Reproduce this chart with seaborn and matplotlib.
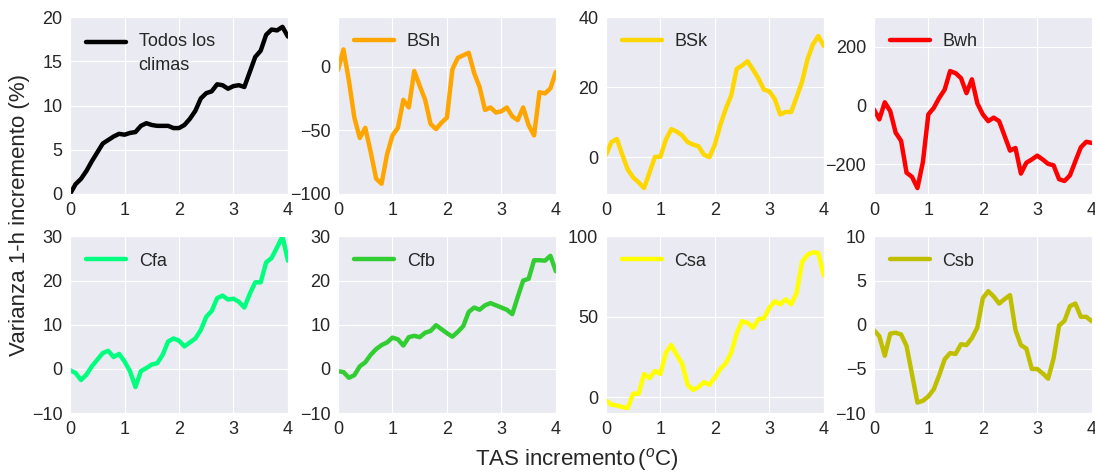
import numpy as np
import pandas as pd
import matplotlib
matplotlib.use("Agg")
import matplotlib.pyplot as plt
import seaborn as sns

# TAS increment axis, 0.0 to 4.0 every 0.1
tas = [round(0.1 * i, 1) for i in range(41)]

todos = [0.0, 1.1, 1.7, 2.6, 3.7, 4.7, 5.7, 6.1, 6.5, 6.8,
         6.7, 6.9, 7.0, 7.7, 8.0, 7.8, 7.7, 7.7, 7.7, 7.45,
         7.45, 7.8, 8.5, 9.4, 10.8, 11.4, 11.6, 12.4, 12.3, 11.9,
         12.2, 12.3, 12.1, 13.8, 15.5, 16.2, 18.0, 18.6, 18.5, 18.9,
         17.8]
bsh = [-2.6, 13.6, -11, -40, -56, -48, -67, -88, -92, -69,
       -54, -48, -26, -32, -3.4, -15, -26, -45, -49, -44,
       -40, -2, 7, 9, 11, -5, -16, -34, -32, -36,
       -35, -32, -39, -42, -32, -46, -54, -20, -21, -17,
       -4]
bsk = [0.6, 4.3, 5.2, 0.7, -3.5, -5.8, -7.2, -8.8, -4.4, 0.1,
       0.1, 5.0, 8.0, 7.3, 6.2, 4.3, 3.6, 3.1, 0.7, 0.0,
       3.6, 9.2, 13.8, 17.6, 25.2, 26.2, 27.4, 25.0, 22.5, 19.3,
       18.8, 16.6, 12.2, 12.9, 12.9, 17.1, 21.5, 27.9, 32.2, 34.6,
       31.8]
bwh = [-13, -47, 11, -19, -92, -120, -228, -242, -280, -192,
       -30, -8, 26, 54, 117, 110, 93, 42, 89, 7,
       -30, -53, -41, -53, -103, -153, -144, -231, -194, -183,
       -170, -183, -198, -203, -250, -256, -237, -189, -142, -123,
       -127]
cfa = [-0.3, -0.9, -2.5, -1.3, 0.6, 2.1, 3.6, 4.1, 2.7, 3.4,
       1.7, -0.5, -4.1, -0.5, 0.2, 1.0, 1.3, 3.2, 6.2, 6.9,
       6.4, 5.1, 6.0, 6.9, 8.8, 11.8, 13.1, 16.0, 16.6, 15.7,
       15.9, 15.2, 13.9, 17.0, 19.6, 19.6, 24.1, 25.1, 27.5, 30.0,
       24.5]
cfb = [-0.5, -0.7, -2.0, -1.4, 0.6, 1.5, 3.2, 4.5, 5.4, 6.0,
       7.1, 6.7, 5.3, 7.2, 7.5, 7.2, 8.2, 8.6, 9.9, 9.0,
       8.1, 7.3, 8.4, 9.7, 12.9, 13.9, 13.4, 14.4, 14.9, 14.4,
       13.9, 13.4, 12.4, 16.3, 20.0, 20.4, 24.6, 24.6, 24.5, 25.6,
       22.1]
csa = [-2.0, -4.7, -5.2, -6.2, -6.8, 2.1, 2.1, 14.4, 11.8, 16.3,
       14.4, 27.6, 32.4, 26.2, 20.6, 7.6, 4.5, 6.2, 9.3, 7.6,
       12.2, 17.5, 21.0, 27.6, 39.6, 47.2, 46.2, 43.1, 48.4, 49.0,
       55.5, 59.6, 57.7, 60.8, 57.7, 64.7, 83.9, 88.5, 90.1, 89.7,
       75.7]
csb = [-0.6, -1.3, -3.5, -1.0, -0.9, -1.1, -2.4, -5.6, -8.8, -8.6,
       -8.1, -7.3, -5.7, -3.9, -3.2, -3.3, -2.2, -2.3, -1.5, -0.3,
       3.0, 3.8, 3.2, 2.4, 2.9, 3.35, -0.6, -2.3, -2.7, -5.0,
       -5.0, -5.5, -6.1, -3.8, -0.1, 0.45, 2.1, 2.4, 0.9, 0.9,
       0.4]

labels = ["Todos los\nclimas", "BSh", "BSk", "Bwh", "Cfa", "Cfb", "Csa", "Csb"]
series = [todos, bsh, bsk, bwh, cfa, cfb, csa, csb]
colors = ["black", "orange", "gold", "red", "springgreen", "limegreen", "yellow", "y"]
ylims = [(0, 20), (-100, 39), (-10.5, 40), (-300, 300),
         (-10, 30), (-10, 30), (-10, 100), (-10, 10)]
yticks = [[0, 5, 10, 15, 20], [-100, -50, 0], [0, 20, 40], [-200, 0, 200],
          [-10, 0, 10, 20, 30], [-10, 0, 10, 20, 30], [0, 50, 100], [-10, -5, 0, 5, 10]]

sns.set_style("darkgrid")
plt.rcParams["font.family"] = ["Liberation Sans", "DejaVu Sans"]
plt.rcParams["mathtext.fontset"] = "custom"
plt.rcParams["mathtext.rm"] = "Liberation Sans"
plt.rcParams["mathtext.it"] = "Liberation Sans:italic"

fig, axes = plt.subplots(2, 4, figsize=(10.95, 4.76), dpi=100)
fig.subplots_adjust(left=0.064, right=0.997, top=0.964, bottom=0.132,
                    wspace=0.23, hspace=0.24)

for ax, y, lab, col, yl, yt in zip(axes.flat, series, labels, colors, ylims, yticks):
    df = pd.DataFrame({"tas": tas, "val": y})
    sns.lineplot(data=df, x="tas", y="val", color=col, lw=3.2, label=lab, ax=ax)
    ax.set_xlim(0, 4)
    ax.set_ylim(*yl)
    ax.set_xticks([0, 1, 2, 3, 4])
    ax.set_yticks(yt)
    ax.tick_params(labelsize=13, pad=2)
    ax.set_xlabel("")
    ax.set_ylabel("")
    leg = ax.legend(loc="upper left", frameon=False, fontsize=13, handlelength=2.2,
                    handletextpad=0.7)
    if "\n" in lab:
        # two-line label: wider line spacing, handle level with the first line
        leg.texts[0].set_linespacing(1.5)
        hl = leg.get_lines()[0]
        hl.set_ydata([v + 8.3 for v in hl.get_ydata()])

fig.text(0.018, 0.548, "Varianza 1-h incremento (%)", rotation=90,
         ha="center", va="center", fontsize=16)
fig.text(0.527, 0.034, r"TAS incremento$\,(^o$C)", ha="center", va="center", fontsize=16)

plt.savefig("out.png", dpi=100)
